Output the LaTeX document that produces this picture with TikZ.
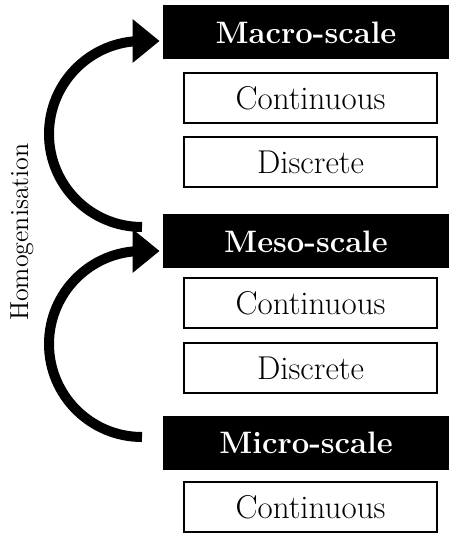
\documentclass[tikz,border=0pt]{standalone}
\usepackage{tikz}
\usetikzlibrary{arrows.meta, positioning}

\begin{document}
\begin{tikzpicture}[x=0.5pt, y=-0.5pt, every node/.style={font=\fontsize{16.5}{19}\selectfont},
      scalebox/.style={fill=black, text=white, font=\fontsize{15.5}{18}\selectfont\bfseries,
                       minimum width=143pt, minimum height=27pt, inner sep=0pt},
      kindbox/.style={draw=black, line width=1pt, fill=white,
                      minimum width=126.5pt, minimum height=25pt, inner sep=0pt},
      homarrow/.style={line width=5pt, -{Triangle[length=13.5pt, width=21pt]}}]
      \useasboundingbox (0,0) rectangle (449,533);
      % Macro-scale
      \node[scalebox] (macro) at (306,32.5) {Macro-scale};
      \node[kindbox] (macrocont) at (310.5,98.5) {Continuous};
      \node[kindbox] (macrodisc) at (310.5,162.5) {Discrete};
      % Meso-scale
      \node[scalebox] (meso) at (306,241.5) {Meso-scale};
      \node[kindbox] (mesocont) at (310.5,303) {Continuous};
      \node[kindbox] (mesodisc) at (310.5,368) {Discrete};
      % Micro-scale
      \node[scalebox] (micro) at (306,443) {Micro-scale};
      \node[kindbox] (microcont) at (310.5,507) {Continuous};
      % Arrows
      \coordinate (mesotail) at (142,227);
      \coordinate (microtail) at (142,437);
      \draw[homarrow] (mesotail) arc[start angle=-90, end angle=-270, radius=46.5pt]
            -- ([xshift=-1.5pt, yshift=-4.25pt]macro.west);
      \draw[homarrow] (microtail) arc[start angle=-90, end angle=-270, radius=46.5pt]
            -- ([xshift=-1.5pt, yshift=-4.75pt]meso.west);
      \node[rotate=90, font=\fontsize{13}{15}\selectfont] (homlabel) at (22,232) {Homogenisation};
    \end{tikzpicture}
\end{document}
